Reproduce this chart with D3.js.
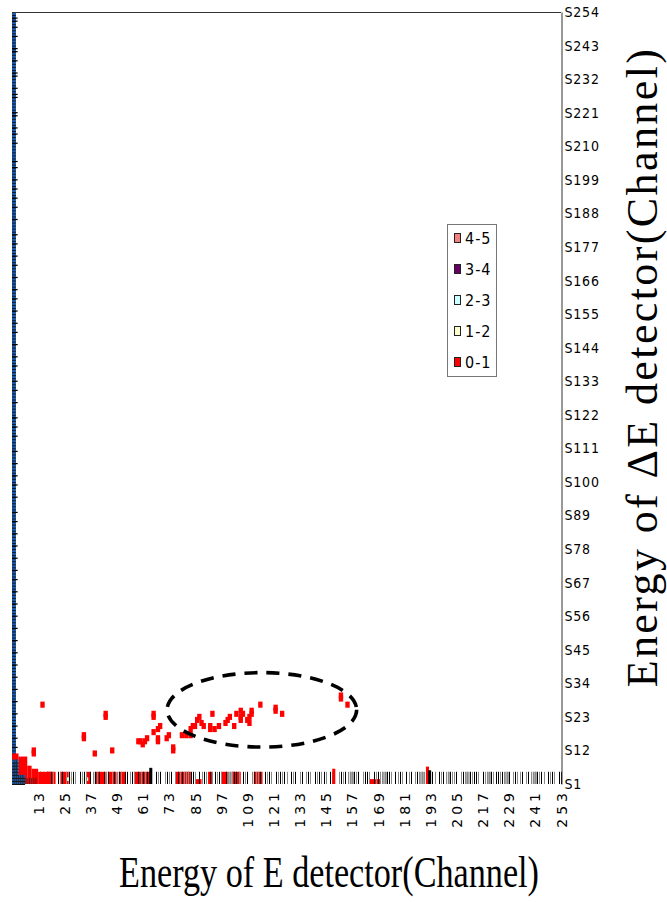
<!DOCTYPE html>
<html><head><meta charset="utf-8">
<script src="https://cdn.jsdelivr.net/npm/d3@7/dist/d3.min.js"></script>
<style>
html,body{margin:0;padding:0;background:#fff;}
svg{display:block;}
</style></head>
<body>
<svg id="chart" width="667" height="902"></svg>
<script>
// ---------- data ----------
const xTickLabels = [13,25,37,49,61,73,85,97,109,121,133,145,157,169,181,193,205,217,229,241,253];
const yTickLabels = [1,12,23,34,45,56,67,78,89,100,111,122,133,144,155,166,177,188,199,210,221,232,243,254];
const legendLabels = ["4-5","3-4","2-3","1-2","0-1"];
const legendColors = ["#f28080","#660066","#ccffff","#ffffcc","#ff0000"];

// red (0-1) cells: [channel, S] lower-left corner of a 2x2 cell
const redCells = [
  [14,26],[10,10],[10,11],[33,15],[33,16],[38,10],[43,22],[43,23],[46,11],[59,14],
  [58,14],[60,13],[61,14],[62,15],[65,22],[65,23],[65,17],[67,18],[68,19],[67,14],[67,15],
  [71,15],[72,16],[74,11],[74,12],[78,16],[80,16],[82,16],[82,18],[83,19],
  [84,19],[85,21],[87,20],[88,19],[86,22],[92,23],[91,18],[91,19],[93,18],[95,19],
  [98,20],[99,21],[100,22],[102,19],[103,23],[105,24],[106,23],[105,21],[105,22],
  [108,21],[109,22],[109,20],[110,23],[110,24],[114,26],[121,24],[121,25],[124,23],
  [151,28],[151,29],[154,26]
];
// corner region: [chFrom, chTo, topS]
const cornerRed  = [[1,4,11],[4,8,10],[8,10,7],[10,13,6],[13,19,5]];
const cornerBlue = [[1,4,9],[4,7,4]];
// bottom band red ranges [chFrom, chTo]
const bandRed    = [[17,20],[23,26],[35,36],[39,43],[45,48],[50,52],[57,63],[76,82],[91,92],[97,99],[102,105],[112,115]];
const bandRedLow = [[85,87],[165,169]];
const bandPale   = [[26,28],[33,35]];
// tall bars in band: [channel, topS, colour]
const tallBars = [[64,6.3,"#000"],[148,6,"#ff0000"],[191,6.7,"#ff0000"],[192,5.5,"#000"]];
// stripe code per channel from 14 to 253 (k black, g grey, G grey block, . none)
const bandCodes =
  "kg.kgkg.kg" + "k.gkgkg.kg" + "kg.kgkgk.k" + "gk.gkgkg.k" + "kgkg.kgkgk" +
  "kg.kgk.gkg" + "k.gkgkgGGk" + "kg.kgkg.kg" + "kgkg.kGGGk" + "kg.kgk.gkg" +
  "gk.kgkg.kg" + "kgkg.kgk.g" + "k.gkg.kgkg" + "kg.kgk.gkg" + "kgGGkgk.gk" +
  "kg.kgkgGGk" + "kg.kgkg.kg" + "k.gkGGgk.g" + "kg.kgkgGkg" + "gk.gkGGkgk" +
  "kg.kgGGkgk" + "kgkGGk.gkg" + "gk.gkgGGkg" + "kg.kgkg.kk";
// black marks along the left column (S values)
const leftMarks = [252,251,249,246,242,241,238,234,233,229,227,226,221,220,216,214,211,
  205,203,199,196,193,190,186,181,178,174,171,167,163,160,156,152,149,145,141,138,133,130,
  126,121,118,115,110,106,102,99,95,90,87,83,79,75,71,68,64,60,56,52,48,44,40,36,32,28,24,20,16,13];
// annotation ellipse in data units: [centre ch, centre S, radius ch, radius S]
const ellipseAnn = [[115.7,25.3,43.5,12.2]];

// ---------- scales ----------
const svg = d3.select("#chart");
const x = d3.scaleLinear().domain([1,253]).range([12,561]);
const y = d3.scaleLinear().domain([1,254]).range([784,12]);

const g = svg.append("g");

// left column (blue with black grid)
g.append("rect").attr("x", x(1)).attr("y", y(254)).attr("width", x(2.8)-x(1)).attr("height", y(1)-y(254))
  .attr("fill","#1f5aa6");
g.selectAll(".lcol").data(d3.range(1,254)).join("line")
  .attr("x1", x(1)).attr("x2", x(2.8)).attr("y1", d=>y(d)+0.5).attr("y2", d=>y(d)+0.5)
  .attr("stroke","#0a1a30").attr("stroke-width",1);
g.selectAll(".lmark").data(leftMarks).join("line")
  .attr("x1", x(1)).attr("x2", x(3.6)).attr("y1", d=>y(d)).attr("y2", d=>y(d))
  .attr("stroke","#000").attr("stroke-width",1.2);

// band stripes
const bandTop = 5;
const codes = bandCodes.split("");
g.selectAll(".gblock").data(codes.map((c,i)=>({c, ch:14+i})).filter(d=>d.c==="G")).join("rect")
  .attr("x", d=>x(d.ch)).attr("width", d=>x(d.ch+1)-x(d.ch)+0.3)
  .attr("y", y(bandTop)).attr("height", y(1)-y(bandTop)).attr("fill","#a8a8a8");
// band red
g.selectAll(".bred").data(bandRed).join("rect")
  .attr("x", d=>x(d[0])).attr("width", d=>x(d[1]+1)-x(d[0]))
  .attr("y", y(bandTop)).attr("height", y(1)-y(bandTop)).attr("fill","#ff0000");
g.selectAll(".bredl").data(bandRedLow).join("rect")
  .attr("x", d=>x(d[0])).attr("width", d=>x(d[1]+1)-x(d[0]))
  .attr("y", y(2.6)).attr("height", y(1)-y(2.6)).attr("fill","#ff0000");
g.selectAll(".bpale").data(bandPale).join("rect")
  .attr("x", d=>x(d[0])).attr("width", d=>x(d[1]+1)-x(d[0]))
  .attr("y", y(3.2)).attr("height", y(2)-y(3.2)).attr("fill","#f3efc8");
g.selectAll(".stripe").data(codes.map((c,i)=>({c, ch:14+i})).filter(d=>d.c!==".")).join("line")
  .attr("x1", d=>Math.round(x(d.ch))+0.5).attr("x2", d=>Math.round(x(d.ch))+0.5)
  .attr("y1", y(bandTop)).attr("y2", y(1))
  .attr("stroke", d=>d.c==="k" ? "#000" : "#8a8a8a").attr("stroke-width",1);
g.selectAll(".tall").data(tallBars).join("rect")
  .attr("x", d=>x(d[0])).attr("width", d=>x(d[0]+1.4)-x(d[0]))
  .attr("y", d=>y(d[1])).attr("height", d=>y(1)-y(d[1])).attr("fill", d=>d[2]);

// corner blob
g.selectAll(".cred").data(cornerRed).join("rect")
  .attr("x", d=>x(d[0])).attr("width", d=>x(d[1])-x(d[0]))
  .attr("y", d=>y(d[2])).attr("height", d=>y(1)-y(d[2])).attr("fill","#ff0000");
g.selectAll(".cblue").data(cornerBlue).join("rect")
  .attr("x", d=>x(d[0])).attr("width", d=>x(d[1])-x(d[0]))
  .attr("y", d=>y(d[2])).attr("height", d=>y(1)-y(d[2])).attr("fill","#1f5aa6");
g.selectAll(".cgrid").data(d3.range(1,9)).join("line")
  .attr("x1", x(1)).attr("x2", d=> d<4 ? x(7) : x(4))
  .attr("y1", d=>y(d)+0.5).attr("y2", d=>y(d)+0.5)
  .attr("stroke","#111").attr("stroke-width",1);
g.selectAll(".cgridv").data(d3.range(2,13)).join("line")
  .attr("x1", d=>x(d)).attr("x2", d=>x(d))
  .attr("y1", d=> d<4 ? y(9) : d<7 ? y(4) : y(3)).attr("y2", y(1))
  .attr("stroke","#222").attr("stroke-width",0.8);

// red scatter cells
g.selectAll(".red").data(redCells).join("rect")
  .attr("x", d=>x(d[0])).attr("width", d=>x(d[0]+2)-x(d[0]))
  .attr("y", d=>y(d[1]+2)).attr("height", d=>y(d[1])-y(d[1]+2))
  .attr("fill","#ff0000");

// ellipse annotation
g.selectAll(".ell").data(ellipseAnn).join("ellipse")
  .attr("cx", d=>x(d[0])).attr("cy", d=>y(d[1]))
  .attr("rx", d=>x(1+d[2])-x(1)).attr("ry", d=>y(1)-y(1+d[3]))
  .attr("fill","none").attr("stroke","#000").attr("stroke-width",3.6)
  .attr("stroke-dasharray","13,9");

// top border
g.append("line").attr("x1", x(1)).attr("x2", x(253)).attr("y1", y(254)+0.5).attr("y2", y(254)+0.5)
  .attr("stroke","#333").attr("stroke-width",1);

// right axis
const yAxis = d3.axisRight(y).tickValues(yTickLabels).tickFormat(d=>"S"+d).tickSize(0).tickPadding(3);
const ya = svg.append("g").attr("transform", `translate(${x(253)+0.5},0)`).call(yAxis);
ya.select(".domain").attr("stroke","#333");
ya.selectAll("text").attr("font-family","DejaVu Sans Condensed").attr("font-size",14)
  .attr("letter-spacing","0.8px").attr("fill","#000");

// bottom axis
const xAxis = d3.axisBottom(x).tickValues(xTickLabels).tickSize(0).tickFormat(d=>String(d));
const xa = svg.append("g").attr("transform", `translate(0,${y(1)})`).call(xAxis);
xa.select(".domain").remove();
xa.selectAll("text").attr("transform","rotate(-90)").attr("x",-5).attr("y",0).attr("dy","0.36em")
  .attr("text-anchor","end").attr("font-family","DejaVu Sans").attr("font-size",14)
  .attr("letter-spacing","4px").attr("fill","#000");

// legend
const lg = svg.append("g").attr("transform","translate(447,224)");
lg.append("rect").attr("x",0.5).attr("y",0.5).attr("width",49).attr("height",152)
  .attr("fill","#fff").attr("stroke","#777").attr("stroke-width",1);
const li = lg.selectAll(".li").data(legendLabels).join("g")
  .attr("transform",(d,i)=>`translate(0,${14 + i*31})`);
li.append("rect").attr("x",7.5).attr("y",-4.5).attr("width",6).attr("height",9)
  .attr("fill",(d,i)=>legendColors[i]).attr("stroke","#222").attr("stroke-width",1);
li.append("text").attr("x",18).attr("y",0).attr("dy","0.36em").text(d=>d)
  .attr("font-family","DejaVu Sans Condensed").attr("font-size",16).attr("letter-spacing","1px");

// titles
svg.append("text").attr("transform","translate(329,887) scale(0.76,1)")
  .attr("text-anchor","middle").attr("font-family","Liberation Serif").attr("font-size",45)
  .text("Energy of E detector(Channel)");
svg.append("text").attr("transform","translate(657,367) rotate(-90)")
  .attr("text-anchor","middle").attr("font-family","Liberation Serif").attr("font-size",44)
  .attr("letter-spacing","2.4px")
  .text("Energy of ΔE detector(Channel)");
</script>
</body></html>
